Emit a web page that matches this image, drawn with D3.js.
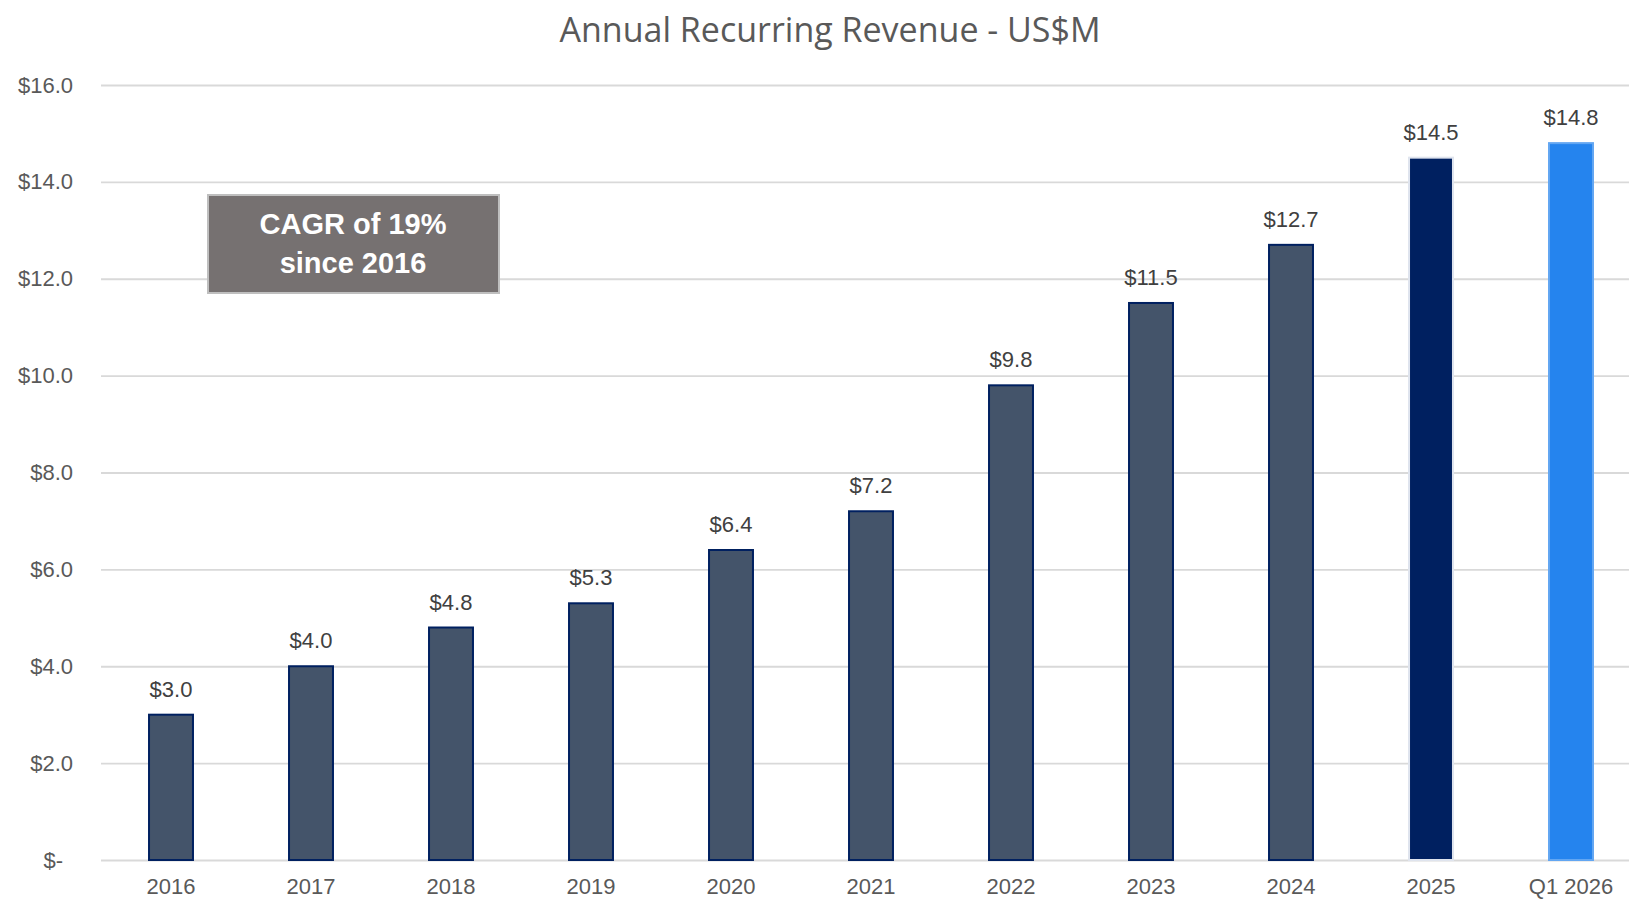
<!DOCTYPE html>
<html>
<head>
<meta charset="utf-8">
<script src="https://cdn.jsdelivr.net/npm/d3@7"></script>
<style>
  body { margin: 0; background: #fff; }
  svg { display: block; font-family: "Liberation Sans", Arial, sans-serif; }
</style>
</head>
<body>
<div id="chart"></div>
<script>
// Chart data
const categories = ["2016", "2017", "2018", "2019", "2020", "2021", "2022", "2023", "2024", "2025", "Q1 2026"];
const arrValues = [3.0, 4.0, 4.8, 5.3, 6.4, 7.2, 9.8, 11.5, 12.7, 14.5, 14.8];
const yTicks = [0, 2, 4, 6, 8, 10, 12, 14, 16];
const titleText = "Annual Recurring Revenue - US$M";
const noteLines = ["CAGR of 19%", "since 2016"];

// Dimensions
const width = 1629;
const height = 901;
const margin = { top: 85, right: -12, bottom: 41, left: 101 };

const svg = d3.select("#chart")
  .append("svg")
  .attr("width", width)
  .attr("height", height);

// Scales
const xScale = d3.scaleBand()
  .domain(categories)
  .range([margin.left, width - margin.right])
  .paddingInner(0.686)
  .paddingOuter(0.343);

const yScale = d3.scaleLinear()
  .domain([0, 16])
  .range([height - margin.bottom, margin.top]);

// Bar colours: history, last full year, latest quarter
function barFill(cat) {
  if (cat === "2025") return "#002060";
  if (cat === "Q1 2026") return "#2584ee";
  return "#44546a";
}
function barStroke(cat) {
  if (cat === "2025") return "#dfe4ee";
  if (cat === "Q1 2026") return "#62a6f2";
  return "#002060";
}

// Gridlines
svg.append("g")
  .attr("class", "grid")
  .attr("transform", `translate(${margin.left},0)`)
  .call(d3.axisLeft(yScale).tickValues(yTicks).tickSize(-(width - margin.left)).tickFormat(""))
  .call(g => g.select(".domain").remove())
  .call(g => g.selectAll("line").attr("stroke", "#d9d9d9").attr("stroke-width", 1.8));

// Y axis labels
svg.append("g")
  .attr("transform", `translate(73,0)`)
  .call(d3.axisLeft(yScale).tickValues(yTicks).tickSize(0).tickPadding(0)
    .tickFormat(d => d === 0 ? "$-" : "$" + d.toFixed(1)))
  .call(g => g.select(".domain").remove())
  .call(g => g.selectAll("text")
    .attr("font-size", 22)
    .attr("fill", "#595959")
    .attr("font-family", "Liberation Sans, Arial, sans-serif")
    .attr("dx", d => d === 0 ? -10 : 0));

// Bars
svg.append("g")
  .selectAll("rect")
  .data(categories)
  .enter()
  .append("rect")
  .attr("x", d => xScale(d))
  .attr("y", (d, i) => yScale(arrValues[i]))
  .attr("width", xScale.bandwidth())
  .attr("height", (d, i) => yScale(0) - yScale(arrValues[i]))
  .attr("fill", d => barFill(d))
  .attr("stroke", d => barStroke(d))
  .attr("stroke-width", 2);

// Value labels
svg.append("g")
  .selectAll("text")
  .data(categories)
  .enter()
  .append("text")
  .attr("x", d => xScale(d) + xScale.bandwidth() / 2)
  .attr("y", (d, i) => yScale(arrValues[i]) - 18)
  .attr("text-anchor", "middle")
  .attr("font-size", 22)
  .attr("fill", "#404040")
  .text((d, i) => "$" + arrValues[i].toFixed(1));

// X axis labels
svg.append("g")
  .attr("transform", `translate(0,${yScale(0)})`)
  .call(d3.axisBottom(xScale).tickSize(0).tickPadding(18))
  .call(g => g.select(".domain").remove())
  .call(g => g.selectAll("text")
    .attr("font-size", 22)
    .attr("fill", "#595959")
    .attr("font-family", "Liberation Sans, Arial, sans-serif"));

// Title
svg.append("text")
  .attr("x", 830)
  .attr("y", 42)
  .attr("text-anchor", "middle")
  .attr("font-family", "Open Sans, Noto Sans, sans-serif")
  .attr("font-size", 34)
  .attr("fill", "#595959")
  .text(titleText);

// CAGR callout box
const note = svg.append("g");
note.append("rect")
  .attr("x", 208)
  .attr("y", 195)
  .attr("width", 291)
  .attr("height", 98)
  .attr("fill", "#767171")
  .attr("stroke", "#bfbfbf")
  .attr("stroke-width", 2);

note.selectAll("text")
  .data(noteLines)
  .enter()
  .append("text")
  .attr("x", 353)
  .attr("y", (d, i) => 234 + i * 39)
  .attr("text-anchor", "middle")
  .attr("font-size", 29)
  .attr("font-weight", "bold")
  .attr("fill", "#ffffff")
  .text(d => d);
</script>
</body>
</html>
